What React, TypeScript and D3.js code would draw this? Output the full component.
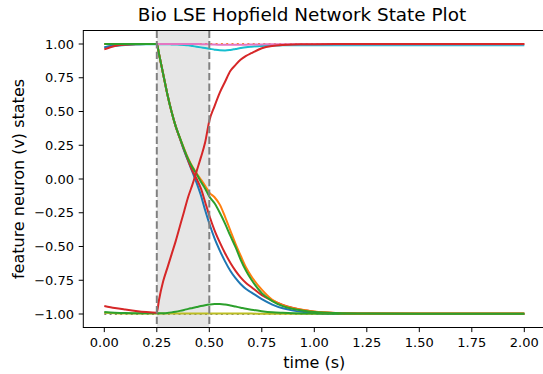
import { useRef, useEffect } from 'react'
import * as d3 from 'd3'

const WIDTH = 543
const HEIGHT = 374
// axes box in page pixels (matplotlib figure, right edge is cut off by the frame)
const AX = { left: 83.3, right: 545.3, top: 30.5, bottom: 327.5 }

const FONT = '"DejaVu Sans", sans-serif'

// shared sample times (s)
const times = [
  0, 0.05, 0.1, 0.15, 0.2, 0.25, 0.26, 0.28, 0.3, 0.32, 0.34, 0.36, 0.38, 0.4, 0.42, 0.44, 0.46, 0.48,
  0.5, 0.525, 0.55, 0.575, 0.6, 0.625, 0.65, 0.675, 0.7, 0.75, 0.8, 0.85, 0.9, 0.95, 1.0, 1.1, 1.25, 1.5, 2.0,
]

// neuron states, one value per entry in `times`
const blueFall = [
  0.975, 0.99, 0.997, 1.0, 1.0, 1.0, 0.93, 0.78, 0.63, 0.5, 0.39, 0.3, 0.21, 0.13, 0.05, -0.03, -0.12, -0.23,
  -0.33, -0.44, -0.53, -0.61, -0.68, -0.735, -0.78, -0.815, -0.84, -0.89, -0.93, -0.958, -0.975, -0.986, -0.992, -0.996, -0.998, -0.999, -0.999,
]
const orangeFall = [
  1.0, 1.0, 1.0, 1.0, 1.0, 1.0, 0.93, 0.78, 0.63, 0.5, 0.39, 0.305, 0.225, 0.15, 0.09, 0.04, -0.005, -0.05,
  -0.1, -0.135, -0.19, -0.28, -0.38, -0.48, -0.57, -0.655, -0.72, -0.82, -0.895, -0.935, -0.958, -0.97, -0.982, -0.992, -0.996, -0.997, -0.997,
]
const greenFall = [
  1.0, 1.0, 1.0, 1.0, 1.0, 1.0, 0.93, 0.78, 0.63, 0.5, 0.39, 0.305, 0.22, 0.145, 0.085, 0.035, -0.02, -0.07,
  -0.13, -0.18, -0.25, -0.33, -0.42, -0.505, -0.6, -0.68, -0.745, -0.845, -0.905, -0.942, -0.963, -0.976, -0.985, -0.993, -0.997, -0.998, -0.998,
]
const redFall = [
  0.96, 0.985, 0.995, 0.999, 1.0, 1.0, 0.93, 0.78, 0.63, 0.5, 0.39, 0.3, 0.215, 0.135, 0.06, 0.0, -0.07, -0.17,
  -0.27, -0.38, -0.47, -0.55, -0.62, -0.68, -0.73, -0.77, -0.8, -0.86, -0.9, -0.933, -0.956, -0.973, -0.983, -0.993, -0.997, -0.998, -0.998,
]
const redRise = [
  -0.94, -0.955, -0.967, -0.978, -0.986, -0.99, -0.9, -0.76, -0.66, -0.56, -0.46, -0.35, -0.24, -0.13, -0.04, 0.06, 0.16, 0.27,
  0.43, 0.54, 0.64, 0.72, 0.8, 0.845, 0.885, 0.912, 0.932, 0.968, 0.985, 0.993, 0.997, 0.998, 0.999, 1.0, 1.0, 1.0, 1.0,
]
const pinkHigh = [
  1.0, 1.0, 1.0, 1.0, 1.0, 1.0, 1.0, 1.0, 1.0, 1.0, 1.0, 1.0, 1.0, 1.0, 1.0, 1.0, 0.999, 0.999,
  0.998, 0.996, 0.995, 0.994, 0.994, 0.994, 0.995, 0.995, 0.996, 0.997, 0.998, 0.998, 0.998, 0.998, 0.998, 0.998, 0.998, 0.998, 0.998,
]
const cyanHigh = [
  0.975, 0.985, 0.992, 0.996, 0.998, 0.999, 0.999, 0.998, 0.998, 0.997, 0.996, 0.995, 0.993, 0.99, 0.985, 0.98, 0.975, 0.97,
  0.965, 0.958, 0.953, 0.952, 0.956, 0.963, 0.97, 0.976, 0.98, 0.986, 0.989, 0.99, 0.991, 0.991, 0.991, 0.991, 0.991, 0.991, 0.991,
]
const greenLow = [
  -0.985, -0.99, -0.993, -0.994, -0.995, -0.995, -0.995, -0.994, -0.992, -0.988, -0.983, -0.977, -0.97, -0.962, -0.955, -0.948, -0.941, -0.935,
  -0.93, -0.926, -0.926, -0.93, -0.937, -0.945, -0.953, -0.961, -0.968, -0.979, -0.987, -0.991, -0.994, -0.996, -0.997, -0.998, -0.998, -0.998, -0.998,
]
const oliveLow = [
  -0.99, -0.994, -0.996, -0.997, -0.997, -0.997, -0.997, -0.997, -0.997, -0.997, -0.997, -0.997, -0.997, -0.997, -0.997, -0.997, -0.997, -0.997,
  -0.997, -0.997, -0.997, -0.997, -0.997, -0.997, -0.997, -0.997, -0.997, -0.998, -0.998, -0.998, -0.998, -0.998, -0.998, -0.999, -0.999, -0.999, -0.999,
]

// stored pattern levels drawn dotted
const dottedLevels = [1.0, -1.0]
const dottedColors = ['#ff7f0e', '#7f7f7f']

// stimulus window (s)
const window = [0.25, 0.5]

const xTicks = [0, 0.25, 0.5, 0.75, 1.0, 1.25, 1.5, 1.75, 2.0]
const yTicks = [-1, -0.75, -0.5, -0.25, 0, 0.25, 0.5, 0.75, 1.0]

// draw order matters: later series sit on top
const series = [
  { values: oliveLow, color: '#bcbd22' },
  { values: cyanHigh, color: '#17becf' },
  { values: pinkHigh, color: '#e377c2' },
  { values: blueFall, color: '#1f77b4' },
  { values: redFall, color: '#d62728' },
  { values: greenLow, color: '#2ca02c' },
  { values: orangeFall, color: '#ff7f0e' },
  { values: greenFall, color: '#2ca02c' },
  { values: redRise, color: '#d62728' },
]

const fmt = (v: number) => d3.format('.2f')(v).replace('-', '\u2212')

export default function App() {
  const svgRef = useRef<SVGSVGElement>(null)

  useEffect(() => {
    if (!svgRef.current) return
    const x = d3.scaleLinear().domain([-0.1, 2.1]).range([AX.left, AX.right])
    const y = d3.scaleLinear().domain([-1.1, 1.1]).range([AX.bottom, AX.top])

    const svg = d3.select(svgRef.current)
    svg.selectAll('*').remove()

    svg.append('rect').attr('width', WIDTH).attr('height', HEIGHT).attr('fill', '#fff')

    svg.append('defs').append('clipPath').attr('id', 'plot-clip')
      .append('rect')
      .attr('x', AX.left).attr('y', AX.top)
      .attr('width', AX.right - AX.left).attr('height', AX.bottom - AX.top)

    const plot = svg.append('g').attr('clip-path', 'url(#plot-clip)')

    // shaded stimulus window
    plot.append('rect')
      .attr('x', x(window[0])).attr('y', AX.top)
      .attr('width', x(window[1]) - x(window[0])).attr('height', AX.bottom - AX.top)
      .attr('fill', '#808080').attr('fill-opacity', 0.2)

    const line = d3.line<number>()
      .x((_, i) => x(times[i]))
      .y(d => y(d))
      .curve(d3.curveMonotoneX)

    // dotted pattern lines
    dottedLevels.forEach((lv, i) => {
      plot.append('line')
        .attr('x1', x(times[0])).attr('x2', x(times[times.length - 1]))
        .attr('y1', y(lv)).attr('y2', y(lv))
        .attr('stroke', dottedColors[i]).attr('stroke-width', 2)
        .attr('stroke-dasharray', '2,3.3')
    })

    series.forEach(s => {
      plot.append('path').datum(s.values).attr('d', line)
        .attr('fill', 'none').attr('stroke', s.color).attr('stroke-width', 2)
        .attr('stroke-linejoin', 'round').attr('stroke-linecap', 'butt')
    })

    // window edges
    window.forEach(t => {
      plot.append('line')
        .attr('x1', x(t)).attr('x2', x(t))
        .attr('y1', AX.top).attr('y2', AX.bottom)
        .attr('stroke', '#808080').attr('stroke-width', 2)
        .attr('stroke-dasharray', '7.4,3.2')
    })

    // frame
    svg.append('rect')
      .attr('x', AX.left).attr('y', AX.top)
      .attr('width', AX.right - AX.left).attr('height', AX.bottom - AX.top)
      .attr('fill', 'none').attr('stroke', '#000').attr('stroke-width', 1)

    // x ticks
    const xg = svg.append('g')
    xTicks.forEach(t => {
      xg.append('line')
        .attr('x1', x(t)).attr('x2', x(t))
        .attr('y1', AX.bottom).attr('y2', AX.bottom + 4.6)
        .attr('stroke', '#000').attr('stroke-width', 1)
      xg.append('text')
        .attr('x', x(t)).attr('y', AX.bottom + 19)
        .attr('text-anchor', 'middle')
        .attr('font-family', FONT).attr('font-size', 13).attr('fill', '#000')
        .text(fmt(t))
    })

    // y ticks
    const yg = svg.append('g')
    yTicks.forEach(t => {
      yg.append('line')
        .attr('x1', AX.left - 4.6).attr('x2', AX.left)
        .attr('y1', y(t)).attr('y2', y(t))
        .attr('stroke', '#000').attr('stroke-width', 1)
      yg.append('text')
        .attr('x', AX.left - 9.3).attr('y', y(t) + 4.7)
        .attr('text-anchor', 'end')
        .attr('font-family', FONT).attr('font-size', 13).attr('fill', '#000')
        .text(fmt(t))
    })

    svg.append('text')
      .attr('x', (AX.left + AX.right) / 2).attr('y', 368)
      .attr('text-anchor', 'middle')
      .attr('font-family', FONT).attr('font-size', 16).attr('fill', '#000')
      .text('time (s)')

    svg.append('text')
      .attr('transform', `translate(24,${(AX.top + AX.bottom) / 2}) rotate(-90)`)
      .attr('text-anchor', 'middle')
      .attr('font-family', FONT).attr('font-size', 16).attr('fill', '#000')
      .text('feature neuron (v) states')

    svg.append('text')
      .attr('x', 302).attr('y', 21)
      .attr('text-anchor', 'middle')
      .attr('font-family', FONT).attr('font-size', 18.4).attr('fill', '#000')
      .text('Bio LSE Hopfield Network State Plot')
  }, [])

  return (
    <svg
      ref={svgRef}
      width={WIDTH}
      height={HEIGHT}
      style={{ position: 'absolute', left: 0, top: 0, display: 'block' }}
    />
  )
}
